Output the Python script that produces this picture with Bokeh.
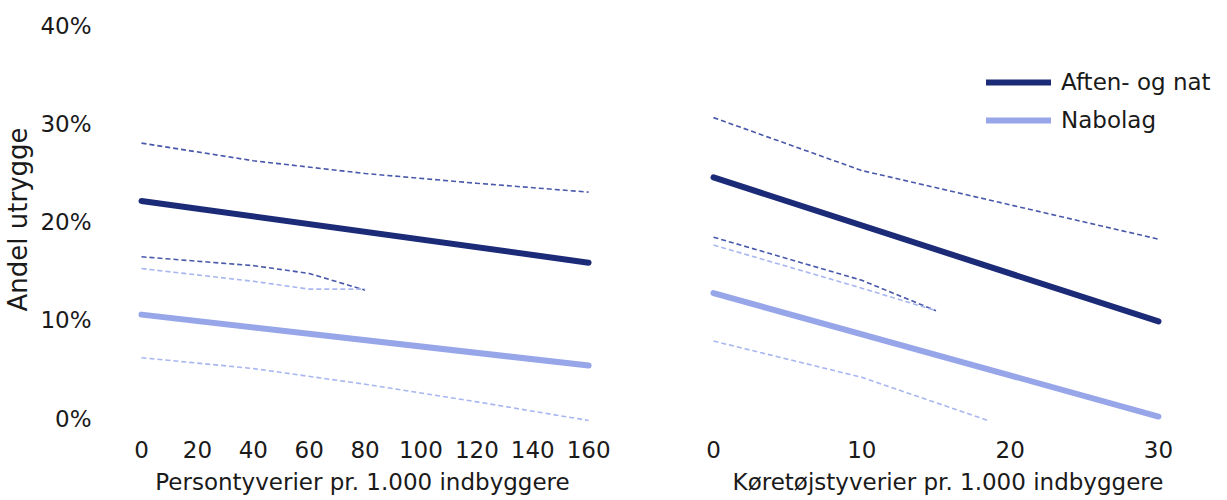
from bokeh.plotting import figure
from bokeh.layouts import row
from bokeh.models import Range1d, FixedTicker, PrintfTickFormatter, Legend, LegendItem
from bokeh.embed import file_html
from bokeh.resources import INLINE

# ---------------- data ----------------
y_ticks = [0, 10, 20, 30, 40]
left_ticks = [0, 20, 40, 60, 80, 100, 120, 140, 160]
right_ticks = [0, 10, 20, 30]

left_label = "Persontyverier pr. 1.000 indbyggere"
right_label = "Køretøjstyverier pr. 1.000 indbyggere"
y_label = "Andel utrygge"
series_names = ["Aften- og nat", "Nabolag"]

# left panel
left_fit_x = [0, 160]
left_aften_fit = [22.2, 15.9]
left_nabolag_fit = [10.6, 5.4]
left_aften_up_x = [0, 40, 80, 120, 160]
left_aften_up = [28.1, 26.3, 25.0, 24.0, 23.1]
left_aften_lo_x = [0, 40, 60, 80]
left_aften_lo = [16.5, 15.6, 14.8, 13.1]
left_nabolag_up_x = [0, 40, 60, 80]
left_nabolag_up = [15.3, 14.0, 13.2, 13.2]
left_nabolag_lo_x = [0, 40, 80, 120, 160]
left_nabolag_lo = [6.2, 5.1, 3.5, 1.7, -0.2]

# right panel
right_fit_x = [0, 30]
right_aften_fit = [24.6, 9.9]
right_nabolag_fit = [12.8, 0.2]
right_aften_up_x = [0, 10, 20, 30]
right_aften_up = [30.7, 25.3, 21.8, 18.3]
right_aften_lo_x = [0, 10, 15]
right_aften_lo = [18.5, 14.1, 11.0]
right_nabolag_up_x = [0, 10, 15]
right_nabolag_up = [17.7, 13.3, 11.0]
right_nabolag_lo_x = [0, 10, 18.5]
right_nabolag_lo = [7.9, 4.2, -0.2]

# ---------------- style ----------------
DARK = "#1c2b78"
LIGHT = "#97a6e8"
DARK_D = "#4858aa"
LIGHT_D = "#a9b6ef"
TXT = "#1a1a1a"
FONT = "DejaVu Sans"
FS = "23px"

yr = Range1d(-1.02, 41.63)


def style(p, ticks):
    p.xaxis.ticker = FixedTicker(ticks=ticks)
    p.yaxis.ticker = FixedTicker(ticks=y_ticks)
    p.yaxis.formatter = PrintfTickFormatter(format="%d%%")
    for ax in p.xaxis + p.yaxis:
        ax.axis_line_color = None
        ax.major_tick_line_color = None
        ax.minor_tick_line_color = None
        ax.major_label_text_font = FONT
        ax.major_label_text_font_size = FS
        ax.major_label_text_color = TXT
        ax.axis_label_text_font = FONT
        ax.axis_label_text_font_size = FS
        ax.axis_label_text_font_style = "normal"
        ax.axis_label_text_color = TXT
    p.xaxis.major_label_standoff = 6
    p.xaxis.axis_label_standoff = 8
    p.grid.visible = False
    p.outline_line_color = None
    p.background_fill_color = "white"
    p.border_fill_color = "white"


p1 = figure(frame_width=512, frame_height=418, x_range=Range1d(-12.53, 170.7), y_range=yr,
            output_backend="svg", toolbar_location=None,
            min_border_left=100, min_border_right=20, min_border_top=10, min_border_bottom=68)
style(p1, left_ticks)
p1.xaxis.axis_label = left_label
p1.yaxis.axis_label = y_label
p1.yaxis.axis_label_text_font_size = "26px"
p1.yaxis.major_label_standoff = 9
p1.yaxis.axis_label_standoff = 4

p1.line(left_aften_up_x, left_aften_up, color=DARK_D, line_width=1.6, line_dash="5 3")
p1.line(left_aften_lo_x, left_aften_lo, color=DARK_D, line_width=1.6, line_dash="5 3")
p1.line(left_nabolag_up_x, left_nabolag_up, color=LIGHT_D, line_width=1.6, line_dash="5 3")
p1.line(left_nabolag_lo_x, left_nabolag_lo, color=LIGHT_D, line_width=1.6, line_dash="5 3")
p1.line(left_fit_x, left_aften_fit, color=DARK, line_width=6, line_cap="round")
p1.line(left_fit_x, left_nabolag_fit, color=LIGHT, line_width=6, line_cap="round")

p2 = figure(frame_width=539, frame_height=418, x_range=Range1d(-2.36, 33.98), y_range=yr,
            output_backend="svg", toolbar_location=None,
            min_border_left=40, min_border_right=0, min_border_top=10, min_border_bottom=68)
style(p2, right_ticks)
p2.yaxis.visible = False
p2.xaxis.axis_label = right_label

p2.line(right_aften_up_x, right_aften_up, color=DARK_D, line_width=1.6, line_dash="5 3")
p2.line(right_aften_lo_x, right_aften_lo, color=DARK_D, line_width=1.6, line_dash="5 3")
p2.line(right_nabolag_up_x, right_nabolag_up, color=LIGHT_D, line_width=1.6, line_dash="5 3")
p2.line(right_nabolag_lo_x, right_nabolag_lo, color=LIGHT_D, line_width=1.6, line_dash="5 3")
ra = p2.line(right_fit_x, right_aften_fit, color=DARK, line_width=6, line_cap="round")
rn = p2.line(right_fit_x, right_nabolag_fit, color=LIGHT, line_width=6, line_cap="round")

legend = Legend(items=[LegendItem(label=series_names[0], renderers=[ra]),
                       LegendItem(label=series_names[1], renderers=[rn])],
                location=(308, 293), padding=0, margin=0, spacing=8,
                glyph_width=65, glyph_height=30, label_standoff=10,
                label_text_font=FONT, label_text_font_size=FS,
                label_text_color=TXT, border_line_color=None,
                background_fill_alpha=0)
p2.add_layout(legend)

layout = row(p1, p2)
open("out.html", "w").write(file_html(layout, INLINE))
